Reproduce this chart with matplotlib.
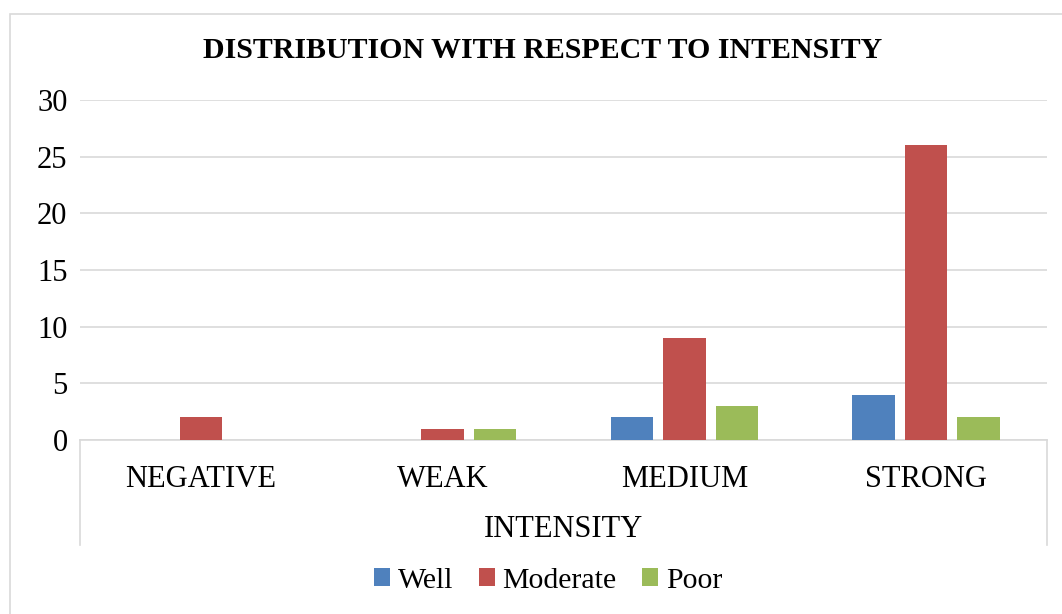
import numpy as np
import matplotlib.pyplot as plt
from matplotlib.lines import Line2D
from matplotlib.patches import Rectangle

plt.rcParams['font.family'] = ['Liberation Serif', 'DejaVu Serif']

categories = ['NEGATIVE', 'WEAK', 'MEDIUM', 'STRONG']
well = [0, 0, 2, 4]
moderate = [2, 1, 9, 26]
poor = [0, 1, 3, 2]
series = [('Well', well, '#4f81bd'),
          ('Moderate', moderate, '#c0504d'),
          ('Poor', poor, '#9bbb59')]

fig = plt.figure(figsize=(10.62, 6.14), dpi=100)
ax = fig.add_axes([80/1062, 1 - 440/614, (1047 - 80)/1062, 340/614])

x = np.arange(len(categories))
w = 0.176
step = 0.217
for i, (name, vals, col) in enumerate(series):
    ax.bar(x + (i - 1) * step, vals, w, color=col, label=name, zorder=3)

ax.set_xlim(-0.5, len(categories) - 0.5)
ax.set_ylim(0, 30)
ax.set_yticks(range(0, 31, 5))
ax.yaxis.grid(True, color='#d9d9d9', linewidth=1.2, zorder=0)
ax.set_xticks(x)
ax.set_xticklabels(categories, fontsize=22)
ax.tick_params(axis='y', labelsize=22, length=0, pad=9)
ax.tick_params(axis='x', length=0, pad=18)
for s in ['top', 'right', 'left']:
    ax.spines[s].set_visible(False)
ax.spines['bottom'].set_color('#d9d9d9')
ax.spines['bottom'].set_linewidth(1.2)

# category axis box lines running below the baseline
for xx in (0, 1):
    ax.add_line(Line2D([xx, xx], [0, -105/340], transform=ax.transAxes,
                       color='#d9d9d9', linewidth=1.2, clip_on=False))

ax.set_xlabel('INTENSITY', fontsize=22, labelpad=15)

fig.suptitle('DISTRIBUTION WITH RESPECT TO INTENSITY', fontsize=21.5,
             fontweight='bold', x=543/1062, y=1 - 50/614, va='center')

fig.legend(loc='center', bbox_to_anchor=(548/1062, 1 - 581/614), ncol=3,
           fontsize=21.5, frameon=False, handlelength=0.55, handleheight=0.55,
           handletextpad=0.25, columnspacing=0.85)

# outer chart frame
fig.add_artist(Rectangle((10/1062, -0.1), 1.2, 1 - 14/614 + 0.1,
                         transform=fig.transFigure, fill=False,
                         edgecolor='#d9d9d9', linewidth=1.2))

fig.savefig('out.png', dpi=100)
